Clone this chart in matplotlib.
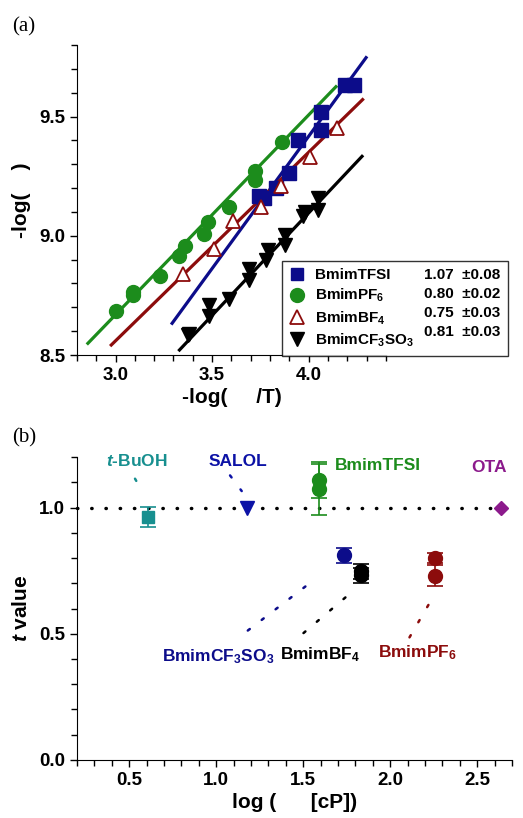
import matplotlib
matplotlib.use("Agg")
import matplotlib.pyplot as plt
from matplotlib.lines import Line2D
from matplotlib.ticker import MultipleLocator

plt.rcParams['font.family'] = ['Liberation Sans', 'DejaVu Sans']
plt.rcParams['font.weight'] = 'bold'
plt.rcParams['axes.labelweight'] = 'bold'
plt.rcParams['mathtext.fontset'] = 'custom'
plt.rcParams['mathtext.rm'] = 'Liberation Sans:bold'
plt.rcParams['mathtext.it'] = 'Liberation Sans:bold:italic'
plt.rcParams['mathtext.default'] = 'rm'

# ---- panel (a) data ----
pf6_x = [3.00, 3.09, 3.09, 3.23, 3.33, 3.36, 3.46, 3.48, 3.59, 3.72, 3.72, 3.86]
pf6_y = [8.686, 8.766, 8.752, 8.83, 8.916, 8.958, 9.007, 9.056, 9.12, 9.235, 9.27, 9.392]
pf6_fit = ([2.857, 4.141], [8.549, 9.625])

tfsi_x = [3.745, 3.77, 3.83, 3.90, 3.945, 4.064, 4.064, 4.19, 4.236]
tfsi_y = [9.165, 9.158, 9.20, 9.263, 9.40, 9.443, 9.518, 9.634, 9.634]
tfsi_fit = ([3.293, 4.297], [8.633, 9.747])

bf4_x = [3.348, 3.512, 3.607, 3.753, 3.857, 4.007, 4.145]
bf4_y = [8.84, 8.944, 9.06, 9.12, 9.21, 9.33, 9.452]
bf4_fit = ([2.978, 4.279], [8.542, 9.571])

cf3_x = [3.374, 3.38, 3.483, 3.486, 3.586, 3.69, 3.69, 3.78, 3.79, 3.876, 3.876, 3.97, 3.98, 4.05, 4.05]
cf3_y = [8.584, 8.59, 8.71, 8.664, 8.734, 8.86, 8.815, 8.90, 8.94, 8.962, 9.004, 9.084, 9.10, 9.11, 9.158]
cf3_fit = ([3.331, 4.276], [8.521, 9.333])

leg_names = ['BmimTFSI', 'BmimPF$_6$', 'BmimBF$_4$', 'BmimCF$_3$SO$_3$']
leg_vals = ['1.07  \u00b10.08', '0.80  \u00b10.02', '0.75  \u00b10.03', '0.81  \u00b10.03']

# ---- panel (b) data ----
pts_b = {
    't-BuOH': dict(x=[0.607], y=[0.963], err=[0.04], c='#178f8f', m='s', ms=9),
    'SALOL': dict(x=[1.176], y=[1.0], err=None, c='#0c12a6', m='v', ms=10),
    'BmimTFSI': dict(x=[1.592, 1.592], y=[1.11, 1.073], err=[0.07, 0.10], c='#1c8c1c', m='o', ms=10),
    'BmimCF3SO3': dict(x=[1.732], y=[0.812], err=[0.03], c='#0c0c8a', m='o', ms=10),
    'BmimBF4': dict(x=[1.832, 1.832], y=[0.748, 0.732], err=[0.03, 0.03], c='black', m='o', ms=10),
    'BmimPF6': dict(x=[2.259, 2.259], y=[0.801, 0.731], err=[0.02, 0.04], c='#8c0c0c', m='o', ms=10),
    'OTA': dict(x=[2.636], y=[1.0], err=None, c='#8c1a8c', m='D', ms=7),
}
labels_b = [
    ('$\\mathit{t}$-BuOH', 0.544, 1.185, 'center', '#178f8f', (0.534, 0.582), (1.115, 1.057)),
    ('SALOL', 1.123, 1.185, 'center', '#0c12a6', (1.08, 1.147), (1.128, 1.066)),
    ('BmimTFSI', 1.684, 1.168, 'left', '#1c8c1c', None, None),
    ('OTA', 2.565, 1.159, 'center', '#8c1a8c', None, None),
    ('BmimCF$_3$SO$_3$', 1.013, 0.41, 'center', '#0c0c8a', (1.182, 1.578), (0.513, 0.722)),
    ('BmimBF$_4$', 1.598, 0.417, 'center', 'black', (1.502, 1.751), (0.503, 0.649)),
    ('BmimPF$_6$', 2.159, 0.424, 'center', '#8c0c0c', (2.111, 2.249), (0.486, 0.649)),
]

green = '#1c8c1c'
navy = '#0c0c8a'
darkred = '#8c0c0c'

fig = plt.figure(figsize=(5.23, 8.18), dpi=100)
axa = fig.add_axes([0.147, 0.566, 0.591, 0.379])
axb = fig.add_axes([0.147, 0.071, 0.832, 0.370])

# panel (a)
axa.plot(*pf6_fit, color=green, lw=2.3)
axa.plot(*tfsi_fit, color=navy, lw=2.3)
axa.plot(*bf4_fit, color=darkred, lw=2.3)
axa.plot(*cf3_fit, color='black', lw=2.3)
axa.plot(pf6_x, pf6_y, 'o', color=green, ms=10, clip_on=False)
axa.plot(tfsi_x, tfsi_y, 's', color=navy, ms=9.5, clip_on=False)
axa.plot(bf4_x, bf4_y, '^', mfc='white', mec=darkred, mew=1.3, ms=10, clip_on=False)
axa.plot(cf3_x, cf3_y, 'v', color='black', ms=10, clip_on=False)

axa.set_xlim(2.8, 4.4)
axa.set_ylim(8.5, 9.8)
axa.xaxis.set_minor_locator(MultipleLocator(0.1))
axa.yaxis.set_minor_locator(MultipleLocator(0.1))
axa.set_xticks([3.0, 3.5, 4.0])
axa.set_yticks([8.5, 9.0, 9.5])
axa.set_xlabel('-log(     /T)', fontsize=15, labelpad=3)
axa.set_ylabel('-log(    )', fontsize=15, labelpad=6)

handles = [Line2D([], [], ls='none', marker='s', color=navy, ms=9),
           Line2D([], [], ls='none', marker='o', color=green, ms=10),
           Line2D([], [], ls='none', marker='^', mfc='white', mec=darkred, mew=1.3, ms=10),
           Line2D([], [], ls='none', marker='v', color='black', ms=10)]
blank = [Line2D([], [], ls='none') for _ in range(4)]
leg = axa.legend(handles + blank, leg_names + leg_vals, ncol=2, loc='upper left',
                 bbox_to_anchor=(282 / 523, (818 - 261) / 818), bbox_transform=fig.transFigure,
                 borderaxespad=0, frameon=True, fancybox=False, edgecolor='black', fontsize=11,
                 handlelength=1.0, handletextpad=0.7, columnspacing=-1.0,
                 labelspacing=0.33, borderpad=0.45)
leg.get_frame().set_linewidth(1.0)

# panel (b)
axb.axhline(1.0, color='black', lw=2.5, ls=(0, (0.1, 4)), dash_capstyle='round', clip_on=False, zorder=1)
for name, d in pts_b.items():
    if d['err'] is not None:
        axb.errorbar(d['x'], d['y'], yerr=d['err'], fmt='none', ecolor=d['c'],
                     elinewidth=1.2, capsize=6, capthick=1.2, zorder=2)
    axb.plot(d['x'], d['y'], d['m'], color=d['c'], ms=d['ms'], ls='none', zorder=3, clip_on=False)

for txt, tx, ty, ha, c, lx, ly in labels_b:
    axb.text(tx, ty, txt, ha=ha, va='center', color=c, fontsize=12.5)
    if lx is not None:
        axb.plot(lx, ly, color=c, lw=1.8, ls=(0, (1, 6)), dash_capstyle='round')

axb.set_xlim(0.2, 2.7)
axb.set_ylim(0.0, 1.2)
axb.xaxis.set_minor_locator(MultipleLocator(0.1))
axb.yaxis.set_minor_locator(MultipleLocator(0.1))
axb.set_xticks([0.5, 1.0, 1.5, 2.0, 2.5])
axb.set_yticks([0.0, 0.5, 1.0])
axb.set_xlabel('log (      [cP])', fontsize=15, labelpad=3)
axb.set_ylabel('$\\mathit{t}$ value', fontsize=15, labelpad=6)

for ax in (axa, axb):
    ax.spines['top'].set_visible(False)
    ax.spines['right'].set_visible(False)
    ax.tick_params(which='major', direction='out', length=5, width=1, labelsize=13.5)
    ax.tick_params(which='minor', direction='out', length=4, width=1)
    ax.set_yticklabels([f'{v:.1f}' for v in ax.get_yticks()])
    ax.set_xticklabels([f'{v:.1f}' for v in ax.get_xticks()])

fig.text(12 / 523, 1 - 27 / 818, '(a)', family='Liberation Serif', fontweight='normal', fontsize=15, va='center')
fig.text(12 / 523, 1 - 438 / 818, '(b)', family='Liberation Serif', fontweight='normal', fontsize=15, va='center')

fig.savefig('out.png', dpi=100)
